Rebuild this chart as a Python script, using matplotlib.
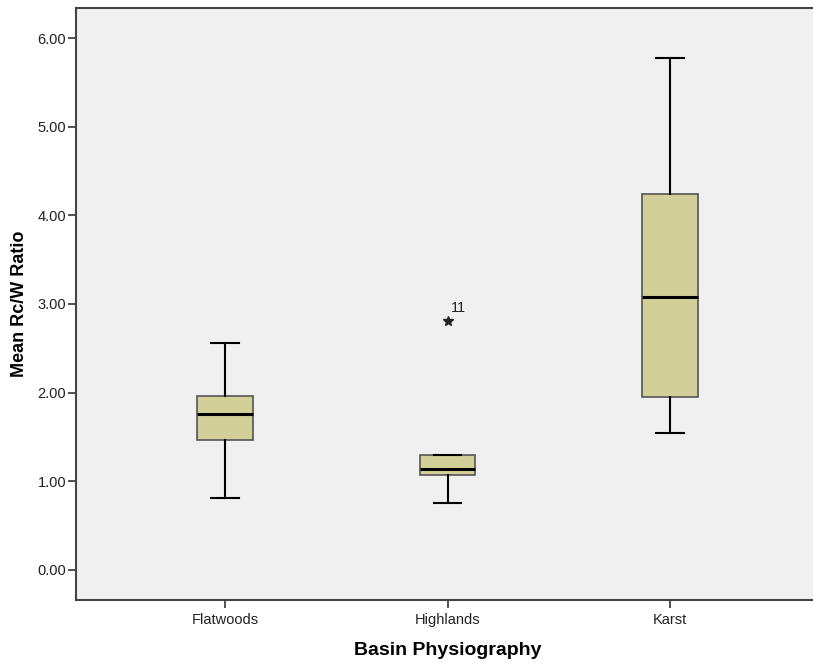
import matplotlib
matplotlib.use("Agg")
import matplotlib.pyplot as plt
from matplotlib.ticker import FormatStrFormatter

# box plot summaries
groups = ["Flatwoods", "Highlands", "Karst"]
whis_lo = [0.81, 0.75, 1.55]
q1 = [1.47, 1.07, 1.95]
medians = [1.76, 1.14, 3.08]
q3 = [1.96, 1.30, 4.24]
whis_hi = [2.56, 1.30, 5.78]
outliers = [[], [2.81], []]
outlier_ids = [[], ["11"], []]
yticks = [0, 1, 2, 3, 4, 5, 6]

plt.rcParams['font.family'] = ['Liberation Sans', 'DejaVu Sans']

fig = plt.figure(figsize=(8.13, 6.66), dpi=100)
ax = fig.add_axes([76 / 813, 1 - 599.5 / 666, (819 - 76) / 813, 591 / 666])
ax.set_facecolor('#f0f0f0')

stats = []
for i, g in enumerate(groups):
    stats.append(dict(label=g, whislo=whis_lo[i], q1=q1[i], med=medians[i],
                      q3=q3[i], whishi=whis_hi[i], fliers=outliers[i]))

ax.bxp(stats, positions=[1, 2, 3], widths=0.25, patch_artist=True,
       boxprops=dict(facecolor='#d3cf98', edgecolor='#555555', linewidth=1.2),
       medianprops=dict(color='black', linewidth=2.2),
       whiskerprops=dict(color='black', linewidth=1.5),
       capprops=dict(color='black', linewidth=1.5),
       capwidths=0.125,
       flierprops=dict(marker='*', markersize=7, markerfacecolor='#222222',
                       markeredgecolor='#222222', linestyle='none'))

for i in range(len(groups)):
    for v, lab in zip(outliers[i], outlier_ids[i]):
        ax.annotate(lab, xy=(i + 1, v), xytext=(2.5, 4), textcoords='offset points',
                    fontsize=10.5, color='#222222', ha='left', va='bottom')

ax.set_xlim(0.33, 3.67)
ax.set_ylim(-0.333, 6.333)
ax.set_yticks(yticks)
ax.yaxis.set_major_formatter(FormatStrFormatter('%.2f'))
ax.tick_params(axis='both', direction='out', length=5.5, width=1.2,
               color='#333333', labelsize=10.5, labelcolor='#222222')
ax.tick_params(axis='y', pad=1.5)
ax.tick_params(axis='x', pad=4)

for side in ['left', 'bottom', 'top']:
    ax.spines[side].set_color('#444444')
    ax.spines[side].set_linewidth(1.5)
ax.spines['right'].set_visible(False)

ax.set_xlabel("Basin Physiography", labelpad=11, fontweight='bold', fontsize=14)
ax.set_ylabel("Mean Rc/W Ratio", labelpad=7, fontweight='bold', fontsize=13)

fig.savefig("out.png", dpi=100)
